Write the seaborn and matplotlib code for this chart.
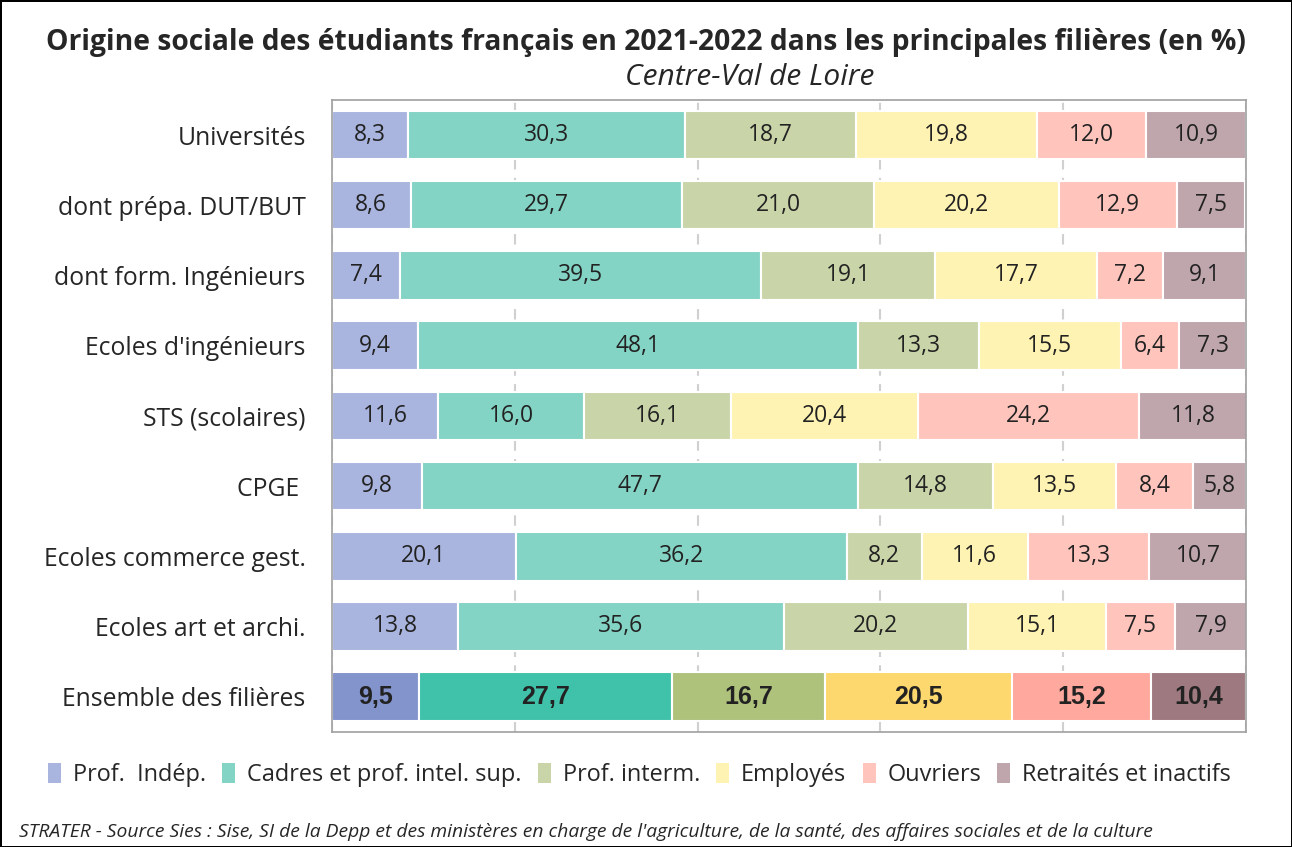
import numpy as np
import pandas as pd
import matplotlib.pyplot as plt
import seaborn as sns
from matplotlib.patches import Patch

# data (top to bottom)
filieres = ['Universités', 'dont prépa. DUT/BUT', 'dont form. Ingénieurs',
            "Ecoles d'ingénieurs", 'STS (scolaires)', 'CPGE ',
            'Ecoles commerce gest.', 'Ecoles art et archi.', 'Ensemble des filières']
categories = ['Prof.  Indép.', 'Cadres et prof. intel. sup.', 'Prof. interm.',
              'Employés', 'Ouvriers', 'Retraités et inactifs']
prof_indep = [8.3, 8.6, 7.4, 9.4, 11.6, 9.8, 20.1, 13.8, 9.5]
cadres = [30.3, 29.7, 39.5, 48.1, 16.0, 47.7, 36.2, 35.6, 27.7]
prof_interm = [18.7, 21.0, 19.1, 13.3, 16.1, 14.8, 8.2, 20.2, 16.7]
employes = [19.8, 20.2, 17.7, 15.5, 20.4, 13.5, 11.6, 15.1, 20.5]
ouvriers = [12.0, 12.9, 7.2, 6.4, 24.2, 8.4, 13.3, 7.5, 15.2]
retraites = [10.9, 7.5, 9.1, 7.3, 11.8, 5.8, 10.7, 7.9, 10.4]

colors_light = ['#A9B5DF', '#83D4C5', '#C9D5A9', '#FFF3B3', '#FFC5BD', '#BFA6AC']
colors_dark = ['#8394CC', '#40C2AA', '#AEC27C', '#FDD86E', '#FFA89D', '#9E7A80']

df = pd.DataFrame({'filiere': filieres, categories[0]: prof_indep, categories[1]: cadres,
                   categories[2]: prof_interm, categories[3]: employes,
                   categories[4]: ouvriers, categories[5]: retraites})

sns.set_theme(style="white")
plt.rcParams['font.family'] = ['Open Sans', 'DejaVu Sans']

fig = plt.figure(figsize=(12.92, 8.47), dpi=100)
fig.patch.set_edgecolor('black')
fig.patch.set_linewidth(2)
ax = fig.add_axes([0.257, 0.136, 0.7074, 0.746])

ypos = np.arange(len(filieres))
left = np.zeros(len(filieres))
n_last = len(filieres) - 1
for j, cat in enumerate(categories):
    vals = df[cat].values
    cols = [colors_light[j]] * n_last + [colors_dark[j]]
    ax.barh(ypos, vals, left=left, height=0.69, color=cols, edgecolor='white',
            linewidth=1.5, zorder=2)
    for i, v in enumerate(vals):
        last = i == n_last
        ax.text(left[i] + v / 2, ypos[i], f'{v:.1f}'.replace('.', ','),
                ha='center', va='center', fontsize=18 if last else 16.5,
                fontweight='bold' if last else 'normal', color='#222222', zorder=3,
                family=['Liberation Sans Narrow', 'Liberation Sans'] if last else ['Open Sans'])
    left += vals

ax.set_xlim(0, 100)
ax.set_ylim(n_last + 0.5, -0.5)
ax.set_yticks(ypos)
ax.set_yticklabels(filieres, fontsize=17.8)
ax.set_xticks(np.arange(0, 101, 20))
ax.set_xticklabels([])
ax.tick_params(axis='y', length=0, pad=19)
ax.tick_params(axis='x', length=0)
ax.xaxis.grid(True, color='#D0D0D0', linestyle=(0, (5, 4)), linewidth=1.5, zorder=0)
ax.set_axisbelow(True)
for s in ax.spines.values():
    s.set_color('#A0A0A0')
    s.set_linewidth(1.2)

fig.text(0.5, 0.95, 'Origine sociale des étudiants français en 2021-2022 dans les principales filières (en %)',
         ha='center', va='center', fontsize=20.3, fontweight='bold')
fig.text(0.58, 0.909, 'Centre-Val de Loire', ha='center', va='center', fontsize=21.5, style='italic')

handles = [Patch(facecolor=c, edgecolor='none') for c in colors_light]
fig.legend(handles, categories, loc='center', bbox_to_anchor=(0.495, 0.085), ncol=6,
           frameon=False, fontsize=16.9, handlelength=0.55, handleheight=0.9,
           handletextpad=0.5, columnspacing=0.7)

fig.text(0.015, 0.018, "STRATER - Source Sies : Sise, SI de la Depp et des ministères en charge de l'agriculture, de la santé, des affaires sociales et de la culture",
         ha='left', va='center', fontsize=13.9, style='italic')

fig.savefig('out.png', dpi=100)
